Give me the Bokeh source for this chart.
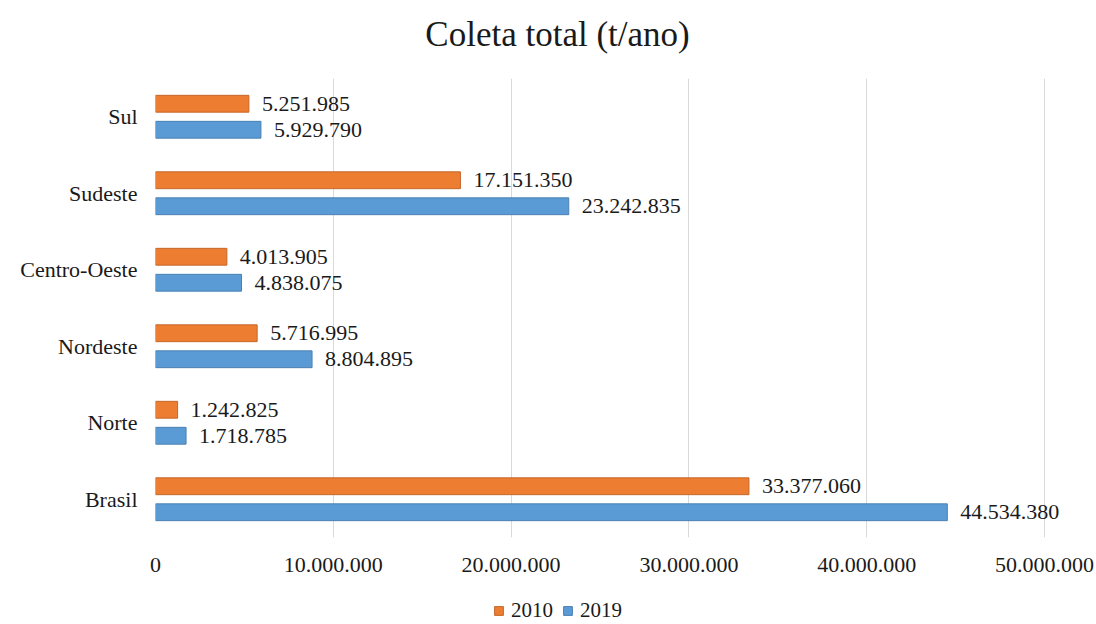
from bokeh.plotting import figure
from bokeh.layouts import column
from bokeh.models import ColumnDataSource, FactorRange, CustomJSTickFormatter, Legend, LegendItem, FixedTicker, Label
from bokeh.transform import dodge
from bokeh.core.properties import value
from bokeh.embed import file_html
from bokeh.resources import INLINE

title_text = "Coleta total (t/ano)"
regions = ["Brasil", "Norte", "Nordeste", "Centro-Oeste", "Sudeste", "Sul"]
v2010 = [33377060, 1242825, 5716995, 4013905, 17151350, 5251985]
v2019 = [44534380, 1718785, 8804895, 4838075, 23242835, 5929790]
ticks = [0, 10000000, 20000000, 30000000, 40000000, 50000000]
series = ["2010", "2019"]

def fmt(v):
    return f"{v:,}".replace(",", ".")

src = ColumnDataSource(dict(
    reg=regions, v2010=v2010, v2019=v2019,
    l2010=[fmt(v) for v in v2010], l2019=[fmt(v) for v in v2019],
))

FONT = "Liberation Serif"
TXT = "#1a1a1a"
orange = "#ED7D31"
blue = "#5B9BD5"
orange_line = "#C5682A"
blue_line = "#4A80B2"

def strip(h):
    f = figure(width=1096, height=h, x_range=(0, 1), y_range=(0, 1),
               output_backend="svg", toolbar_location=None,
               min_border=0, min_border_left=0, min_border_right=0,
               min_border_top=0, min_border_bottom=0)
    f.axis.visible = False
    f.grid.grid_line_color = None
    f.outline_line_color = None
    f.title = None
    return f

# title strip (the column aligns its frame with the chart's frame, which starts at x=155)
pt = strip(78)
pt.add_layout(Label(x=402, y=44, x_units="screen", y_units="screen", text=title_text,
                    text_align="center", text_baseline="middle", text_font=FONT,
                    text_font_size="35px", text_color=TXT))

# main chart: frame runs from x=155 to the right edge; 50.000.000 sits at x~1044
x_end = 50000000 * 941 / 889
p = figure(width=1096, height=518, y_range=FactorRange(*regions), x_range=(0, x_end),
           output_backend="svg", toolbar_location=None,
           min_border_left=155, min_border_right=0, min_border_top=0, min_border_bottom=59)
p.title = None

r1 = p.hbar(y=dodge("reg", 0.17, range=p.y_range), right="v2010", left=0, height=0.22,
            source=src, fill_color=orange, line_color=orange_line, line_width=1)
r2 = p.hbar(y=dodge("reg", -0.17, range=p.y_range), right="v2019", left=0, height=0.22,
            source=src, fill_color=blue, line_color=blue_line, line_width=1)

p.text(x="v2010", y=dodge("reg", 0.17, range=p.y_range), text="l2010", source=src,
       x_offset=13, text_baseline="middle", text_align="left",
       text_font=value(FONT), text_font_size="22px", text_color=TXT)
p.text(x="v2019", y=dodge("reg", -0.17, range=p.y_range), text="l2019", source=src,
       x_offset=13, text_baseline="middle", text_align="left",
       text_font=value(FONT), text_font_size="22px", text_color=TXT)

p.xaxis.ticker = FixedTicker(ticks=ticks)
p.xaxis.formatter = CustomJSTickFormatter(code="return tick.toFixed(0).replace(/\\B(?=(\\d{3})+(?!\\d))/g, '.');")
for ax in (p.xaxis, p.yaxis):
    ax.axis_line_color = None
    ax.major_tick_line_color = None
    ax.minor_tick_line_color = None
    ax.major_label_text_font = FONT
    ax.major_label_text_font_size = "22px"
    ax.major_label_text_color = TXT
p.xaxis.major_label_standoff = 14
p.yaxis.major_label_standoff = 12

p.xgrid.grid_line_color = "#d9d9d9"
p.xgrid.grid_line_width = 1
p.ygrid.grid_line_color = None
p.outline_line_color = None

# legend strip below the chart (proxy glyphs sit outside the strip's visible range)
pl = strip(28)
lr1 = pl.hbar(y=[-5], right=[-5], left=-6, height=0.5, fill_color=orange, line_color=orange_line)
lr2 = pl.hbar(y=[-5], right=[-5], left=-6, height=0.5, fill_color=blue, line_color=blue_line)
legend = Legend(items=[LegendItem(label=series[0], renderers=[lr1]),
                       LegendItem(label=series[1], renderers=[lr2])],
                orientation="horizontal", location=(338, 1),
                label_text_font=FONT, label_text_font_size="21px", label_text_color=TXT,
                glyph_width=11, glyph_height=11, label_standoff=7, spacing=9,
                border_line_color=None, background_fill_alpha=0, margin=0, padding=0)
pl.add_layout(legend, "center")

layout = column(pt, p, pl, spacing=0)
open("out.html", "w").write(file_html(layout, INLINE))
